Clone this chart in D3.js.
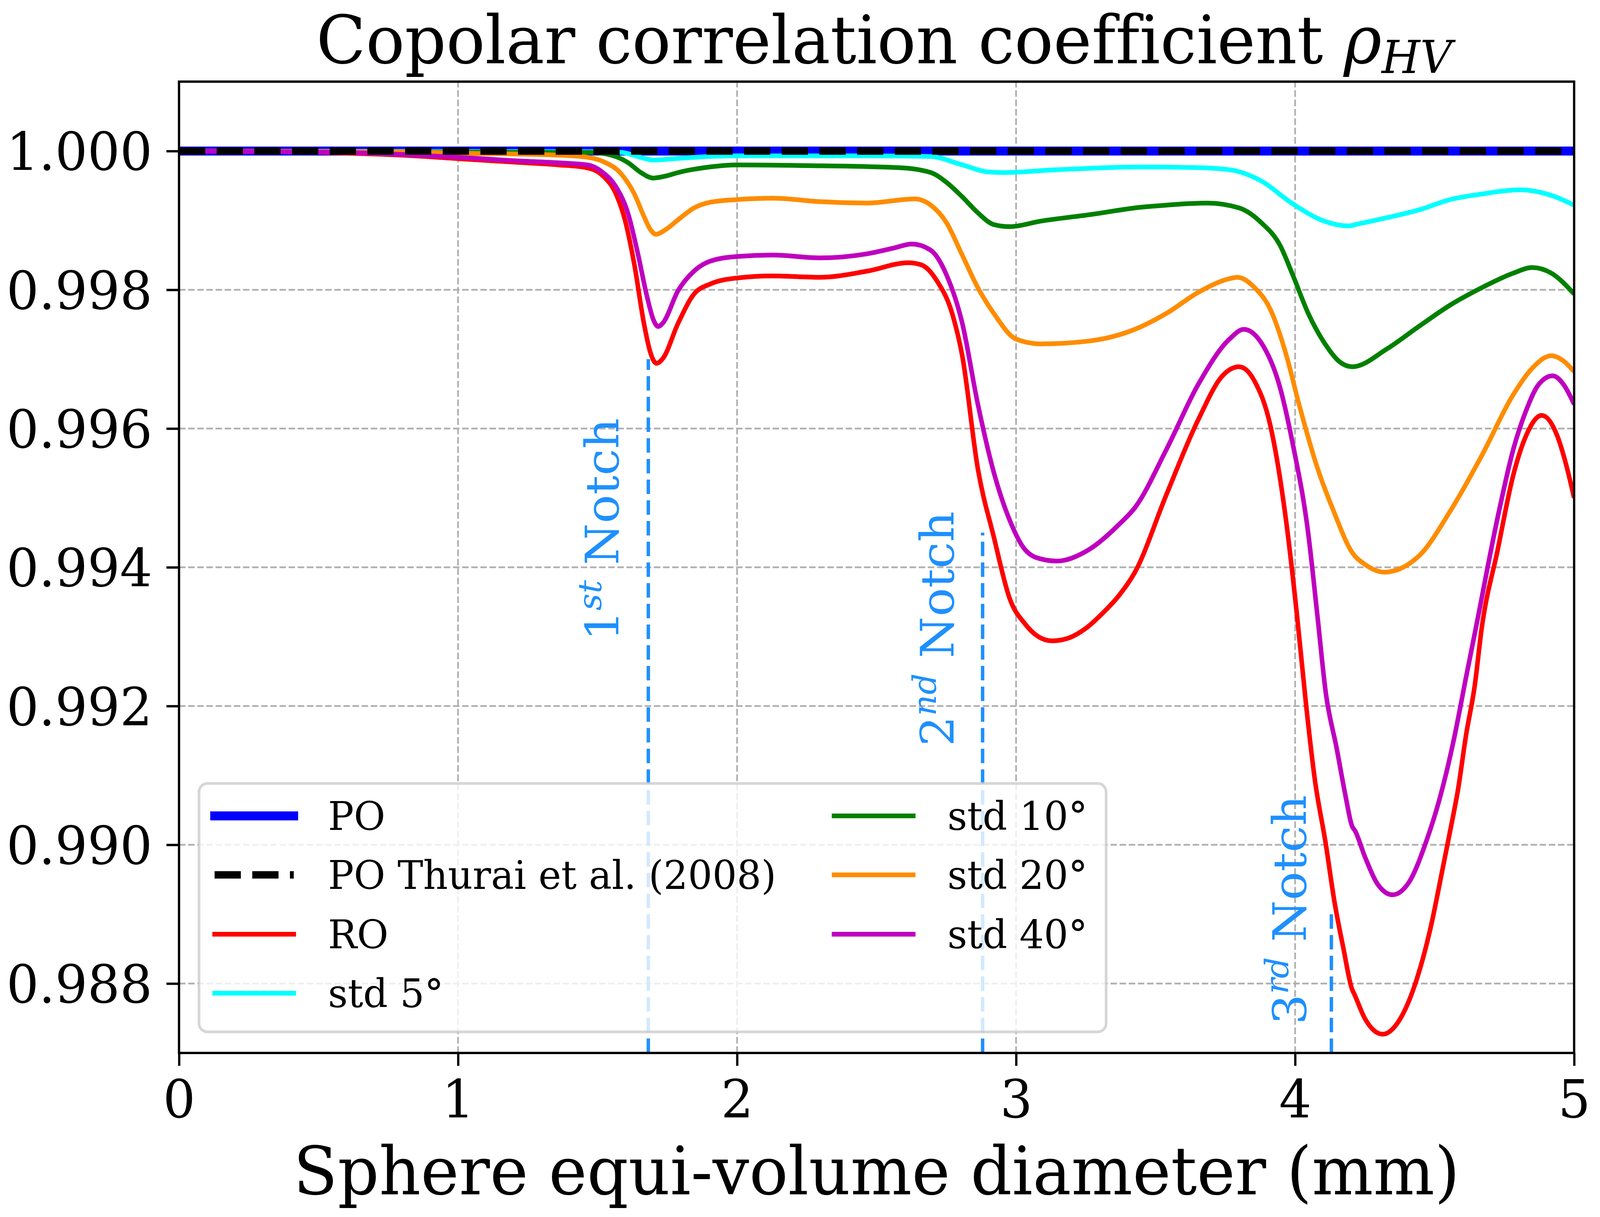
<!DOCTYPE html>
<html>
<head>
<meta charset="utf-8">
<script src="https://cdn.jsdelivr.net/npm/d3@7"></script>
<style>
  html, body { margin: 0; padding: 0; background: #fff; overflow: hidden; width: 100%; height: 100%; }
  svg { display: block; position: absolute; left: 0; top: 0; width: 100vw; height: 100vh; }
  text { font-family: "DejaVu Serif", serif; font-variant-ligatures: none; white-space: pre; }
</style>
</head>
<body>
<script>
// figure size and plot box
var W = 4205, H = 3116;
var plotL = 470.5, plotR = 4137, plotT = 209, plotB = 2696;

// ticks
var xTicks = [0, 1, 2, 3, 4, 5];
var yTicks = [0.988, 0.990, 0.992, 0.994, 0.996, 0.998, 1.000];

// legend names (same order as in the legend)
var seriesNames = ["PO", "PO Thurai et al. (2008)", "RO", "std 5°", "std 10°", "std 20°", "std 40°"];

// [diameter mm, rho_hv]
var poPts = [[0, 1.0], [5, 1.0]];
var thuraiPts = [[0, 1.0], [5, 1.0]];

var roPts = [[0,1.0],[0.4,0.99999],[0.6,0.99997],[0.8,0.99994],[1.0,0.99989],[1.2,0.99984],[1.36,0.99980],
  [1.46,0.99976],[1.52,0.99964],[1.565,0.99939],[1.598,0.99901],[1.632,0.99836],[1.666,0.99752],[1.689,0.99710],
  [1.711,0.99694],[1.734,0.99701],[1.789,0.99752],[1.846,0.99794],[1.902,0.99808],[2.0,0.99817],[2.128,0.99820],
  [2.298,0.99818],[2.468,0.99827],[2.614,0.99839],[2.66,0.99836],[2.716,0.99813],[2.773,0.99763],[2.807,0.99705],
  [2.863,0.99542],[2.92,0.99444],[2.977,0.99355],[3.033,0.99318],[3.08,0.99300],[3.128,0.99294],[3.18,0.99297],
  [3.253,0.99313],[3.313,0.99335],[3.366,0.99358],[3.426,0.99393],[3.539,0.99505],[3.652,0.99612],[3.742,0.99677],
  [3.799,0.99689],[3.855,0.99668],[3.912,0.99603],[3.969,0.99463],[4.007,0.99330],[4.039,0.99203],[4.07,0.99096],
  [4.11,0.99001],[4.141,0.98918],[4.173,0.98851],[4.204,0.98792],[4.212,0.98785],[4.251,0.98749],[4.314,0.98727],
  [4.37,0.98745],[4.424,0.98792],[4.487,0.98883],[4.527,0.98962],[4.566,0.99041],[4.582,0.99075],[4.613,0.99159],
  [4.644,0.99230],[4.668,0.99310],[4.726,0.99425],[4.782,0.99533],[4.827,0.99589],[4.884,0.99619],[4.94,0.99589],
  [4.97,0.99550],[5.0,0.99500]];

var std5Pts = [[0,1.0],[1.5,0.99999],[1.587,0.99998],[1.644,0.99992],[1.70,0.99987],[1.777,0.99989],[1.902,0.99992],
  [2.0,0.99993],[2.468,0.99993],[2.694,0.99992],[2.807,0.99980],[2.897,0.99970],[2.954,0.99969],[3.146,0.99973],
  [3.449,0.99977],[3.652,0.99976],[3.765,0.99973],[3.878,0.99957],[3.991,0.99924],[4.104,0.99899],[4.194,0.99892],
  [4.217,0.99894],[4.33,0.99904],[4.443,0.99915],[4.556,0.99930],[4.669,0.99938],[4.805,0.99944],[4.918,0.99936],
  [5.0,0.99922]];

var std10Pts = [[0,1.0],[1.36,0.99998],[1.474,0.99998],[1.565,0.99992],[1.61,0.99983],[1.655,0.99969],[1.70,0.99961],
  [1.745,0.99964],[1.789,0.99969],[1.902,0.99977],[2.0,0.99980],[2.242,0.99979],[2.58,0.99976],[2.694,0.99969],
  [2.75,0.99955],[2.807,0.99934],[2.863,0.99911],[2.92,0.99894],[2.977,0.99891],[3.089,0.99899],[3.259,0.99908],
  [3.449,0.99919],[3.539,0.99922],[3.686,0.99925],[3.799,0.99918],[3.878,0.99897],[3.946,0.99864],[3.991,0.99822],
  [4.047,0.99766],[4.104,0.99724],[4.16,0.99696],[4.205,0.99689],[4.33,0.99715],[4.443,0.99747],[4.556,0.99778],
  [4.669,0.99803],[4.782,0.99824],[4.85,0.99832],[4.918,0.99824],[5.0,0.99794]];

var std20Pts = [[0,1.0],[0.8,0.99999],[1.0,0.99997],[1.36,0.99994],[1.463,0.99991],[1.519,0.99985],[1.587,0.99966],
  [1.632,0.99938],[1.666,0.99906],[1.689,0.99887],[1.709,0.99880],[1.745,0.99887],[1.789,0.99901],[1.846,0.99918],
  [1.902,0.99926],[2.0,0.99930],[2.128,0.99932],[2.298,0.99927],[2.468,0.99925],[2.637,0.99931],[2.694,0.99922],
  [2.75,0.99897],[2.807,0.99850],[2.863,0.99803],[2.92,0.99766],[3.0,0.99729],[3.089,0.99722],[3.259,0.99726],
  [3.426,0.99743],[3.539,0.99766],[3.652,0.99796],[3.765,0.99816],[3.793,0.99818],[3.855,0.99803],[3.912,0.99771],
  [3.969,0.99705],[4.014,0.99635],[4.081,0.99542],[4.138,0.99481],[4.205,0.99421],[4.251,0.99404],[4.319,0.99393],
  [4.443,0.99416],[4.556,0.99481],[4.669,0.99561],[4.782,0.99649],[4.85,0.99687],[4.918,0.99705],[4.96,0.99698],
  [5.0,0.99682]];

var std40Pts = [[0,1.0],[0.4,0.99999],[0.6,0.99998],[0.8,0.99995],[1.0,0.99991],[1.2,0.99986],[1.36,0.99983],
  [1.463,0.99980],[1.519,0.99969],[1.565,0.99949],[1.61,0.99909],[1.644,0.99853],[1.678,0.99789],[1.70,0.99757],
  [1.717,0.99747],[1.734,0.99752],[1.789,0.99799],[1.846,0.99827],[1.902,0.99841],[2.0,0.99848],[2.128,0.99850],
  [2.298,0.99846],[2.468,0.99852],[2.56,0.99860],[2.626,0.99866],[2.694,0.99857],[2.75,0.99822],[2.807,0.99752],
  [2.863,0.99635],[2.92,0.99537],[2.977,0.99468],[3.033,0.99425],[3.089,0.99412],[3.146,0.99409],[3.259,0.99425],
  [3.372,0.99463],[3.426,0.99486],[3.539,0.99570],[3.652,0.99663],[3.765,0.99729],[3.816,0.99743],[3.878,0.99724],
  [3.946,0.99659],[3.991,0.99579],[4.047,0.99449],[4.08,0.99330],[4.11,0.99219],[4.149,0.99139],[4.18,0.99072],
  [4.204,0.99027],[4.215,0.99020],[4.251,0.98982],[4.298,0.98942],[4.349,0.98928],[4.408,0.98946],[4.47,0.99005],
  [4.517,0.99065],[4.556,0.99128],[4.568,0.99150],[4.611,0.99238],[4.65,0.99317],[4.726,0.99472],[4.782,0.99570],
  [4.827,0.99625],[4.872,0.99663],[4.923,0.99676],[4.963,0.99663],[5.0,0.99635]];

// notch markers
var notchD = [1.682, 2.880, 4.130];
var notchTop = [0.997, 0.9945, 0.989];
var notchNum = ["1", "2", "3"];
var notchSup = ["st", "nd", "rd"];
var notchLabelD = [1.575, 2.776, 4.038];
var notchLabelV = [0.99294, 0.99142, 0.98741];

var allPts = [poPts, thuraiPts, roPts, std5Pts, std10Pts, std20Pts, std40Pts];
var colors = ["#0000ff", "#000000", "#ff0000", "#00ffff", "#008000", "#ff8c00", "#bf00bf"];
var widths = [23, 19, 12, 12, 12, 12, 12];
var dashes = [null, "69,30", null, null, null, null, null];
var drawOrder = [0, 2, 3, 4, 5, 6, 1];

// the svg is scaled to whatever the window gives, so nothing is cut at the edges
var svg = d3.select("body").append("svg")
    .attr("viewBox", "0 0 " + W + " " + H)
    .attr("preserveAspectRatio", "none")
    .style("background", "#fff");

var xScale = d3.scaleLinear().domain([0, 5]).range([plotL, plotR]);
var yScale = d3.scaleLinear().domain([0.987, 1.001]).range([plotB, plotT]);

svg.append("rect").attr("width", W).attr("height", H).attr("fill", "#fff");

svg.append("defs").append("clipPath").attr("id", "plotclip")
    .append("rect").attr("x", plotL).attr("y", plotT)
    .attr("width", plotR - plotL).attr("height", plotB - plotT);

// grid
var grid = svg.append("g");
grid.selectAll("line.vg").data(xTicks).enter().append("line")
    .attr("x1", function(d) { return xScale(d); })
    .attr("x2", function(d) { return xScale(d); })
    .attr("y1", plotB).attr("y2", plotT)
    .attr("stroke", "#b0b0b0").attr("stroke-width", 4.5).attr("stroke-dasharray", "17,7");
grid.selectAll("line.hg").data(yTicks).enter().append("line")
    .attr("y1", function(d) { return yScale(d); })
    .attr("y2", function(d) { return yScale(d); })
    .attr("x1", plotL).attr("x2", plotR)
    .attr("stroke", "#b0b0b0").attr("stroke-width", 4.5).attr("stroke-dasharray", "17,7");

// curves
var line = d3.line()
    .x(function(d) { return xScale(d[0]); })
    .y(function(d) { return yScale(d[1]); })
    .curve(d3.curveMonotoneX);

var plot = svg.append("g").attr("clip-path", "url(#plotclip)");
drawOrder.forEach(function(i) {
    var p = plot.append("path")
        .attr("d", line(allPts[i]))
        .attr("fill", "none")
        .attr("stroke", colors[i])
        .attr("stroke-width", widths[i])
        .attr("stroke-linejoin", "round");
    if (dashes[i]) p.attr("stroke-dasharray", dashes[i]);
});

// notch lines and labels
notchD.forEach(function(d, i) {
    plot.append("line")
        .attr("x1", xScale(d)).attr("x2", xScale(d))
        .attr("y1", plotB).attr("y2", yScale(notchTop[i]))
        .attr("stroke", "#1e90ff").attr("stroke-width", 9).attr("stroke-dasharray", "37,16");

    var t = svg.append("text")
        .attr("transform", "translate(" + xScale(notchLabelD[i]) + "," + yScale(notchLabelV[i]) + ") rotate(-90)")
        .attr("fill", "#1e90ff")
        .attr("font-size", 122);
    t.append("tspan").text(notchNum[i]);
    t.append("tspan").attr("font-style", "italic").attr("font-size", 85).attr("dy", -46).text(notchSup[i]);
    t.append("tspan").attr("dy", 46).text(" Notch");
});

// axes
var yAxis = d3.axisLeft(yScale).tickValues(yTicks).tickFormat(d3.format(".3f")).tickSize(33).tickPadding(37);
var xAxis = d3.axisBottom(xScale).tickValues(xTicks).tickFormat(d3.format("d")).tickSize(33).tickPadding(37);

var gy = svg.append("g").attr("transform", "translate(" + plotL + ",0)").call(yAxis);
var gx = svg.append("g").attr("transform", "translate(0," + plotB + ")").call(xAxis);
[gx, gy].forEach(function(g) {
    g.select(".domain").remove();
    g.selectAll(".tick line").attr("stroke", "#000").attr("stroke-width", 6);
    g.selectAll(".tick text")
        .attr("fill", "#000")
        .style("font-family", "'DejaVu Serif', serif")
        .style("font-size", "134px");
});
gy.selectAll(".tick text").attr("dy", "0.36em");

// spines
svg.append("rect")
    .attr("x", plotL).attr("y", plotT)
    .attr("width", plotR - plotL).attr("height", plotB - plotT)
    .attr("fill", "none").attr("stroke", "#000").attr("stroke-width", 6);

// title
var title = svg.append("text")
    .attr("x", (plotL + plotR) / 2 + 20)
    .attr("y", 162)
    .attr("text-anchor", "middle")
    .attr("font-size", 170);
title.append("tspan").text("Copolar correlation coefficient ");
title.append("tspan").attr("font-style", "italic").text("ρ");
title.append("tspan").attr("font-style", "italic").attr("font-size", 116).attr("dy", 25).text("HV");

// x label
svg.append("text")
    .attr("x", (plotL + plotR) / 2)
    .attr("y", 3058)
    .attr("text-anchor", "middle")
    .attr("font-size", 170)
    .text("Sphere equi-volume diameter (mm)");

// legend
var legX = 523, legY = 2006, legW = 2384, legH = 636;
var leg = svg.append("g");
leg.append("rect")
    .attr("x", legX).attr("y", legY)
    .attr("width", legW).attr("height", legH)
    .attr("rx", 22).attr("ry", 22)
    .attr("fill", "#fff").attr("fill-opacity", 0.8)
    .attr("stroke", "rgba(204,204,204,0.8)").attr("stroke-width", 7);

var rowY = [2089, 2240, 2392, 2543];
var colText = [862, 2490];
seriesNames.forEach(function(name, i) {
    var col = i < 4 ? 0 : 1;
    var row = i < 4 ? i : i - 4;
    var tx = colText[col];
    var y = rowY[row];
    var h = leg.append("line")
        .attr("x1", tx - 298).attr("x2", tx - 90)
        .attr("y1", y).attr("y2", y)
        .attr("stroke", colors[i])
        .attr("stroke-width", widths[i])
        .attr("stroke-linecap", dashes[i] ? "butt" : "square");
    if (dashes[i]) h.attr("stroke-dasharray", dashes[i]);
    leg.append("text")
        .attr("x", tx).attr("y", y + 36)
        .attr("font-size", 101)
        .text(name);
});
</script>
</body>
</html>
